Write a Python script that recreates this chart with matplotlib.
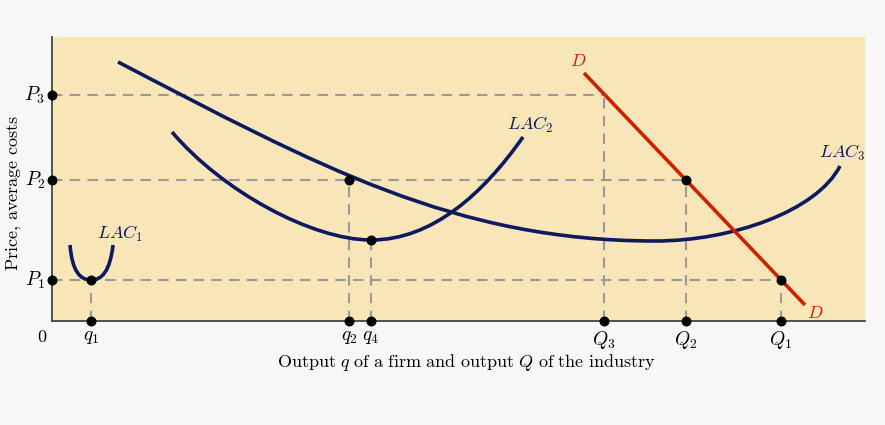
import matplotlib.pyplot as plt
from matplotlib.path import Path
from matplotlib.patches import PathPatch

plt.rcParams["mathtext.fontset"] = "cm"
plt.rcParams["font.family"] = ["Liberation Serif", "DejaVu Serif"]

# price levels and quantities (data units)
price_labels = ["$P_1$", "$P_2$", "$P_3$"]
prices = [41, 141, 226]
firm_labels = ["$q_1$", "$q_2$", "$q_4$"]
firm_q = [39, 297, 319]
ind_labels = ["$Q_3$", "$Q_2$", "$Q_1$"]
ind_q = [552, 634, 729]

# long-run average cost curves: bezier control points (start, c1, c2, end, c1, c2, end)
lac1 = [(18, 76), (20, 50), (28, 41), (39, 41), (50, 41), (58, 50), (61, 76)]
lac2 = [(120, 189), (170, 130), (260, 81), (319, 81), (380, 81), (431, 127), (471, 184)]
lac3 = [(66, 259), (266, 155), (403, 80), (603, 80), (680, 80), (765, 110), (788, 155)]

# market demand line
demand_x = [532, 753]
demand_y = [248, 16]

# marked points (x, y)
pts_x = [39, 297, 319, 634, 729]
pts_y = [41, 141, 81, 141, 41]

NAVY = "#0c1a5e"
RED = "#cc2200"
GREY = "#9a9a9a"

fig = plt.figure(figsize=(8.85, 4.25), dpi=100)
fig.patch.set_facecolor("#f7f7f7")
ax = fig.add_axes([0.0588, 0.2447, 0.9186, 0.6683])
ax.set_facecolor("#f8e5b8")
ax.set_xlim(0, 813)
ax.set_ylim(0, 284)
for s in ("top", "right"):
    ax.spines[s].set_visible(False)
for s in ("left", "bottom"):
    ax.spines[s].set_color("#444444")
    ax.spines[s].set_linewidth(1.3)
ax.set_xticks([])
ax.set_yticks([])

dash = dict(color=GREY, lw=1.5, dashes=(5, 3.5), zorder=1)
# horizontal guides
ax.plot([0, ind_q[0]], [prices[2]] * 2, **dash)
ax.plot([0, ind_q[1]], [prices[1]] * 2, **dash)
ax.plot([0, ind_q[2]], [prices[0]] * 2, **dash)
# vertical guides
for x, y in zip([firm_q[0], firm_q[1], firm_q[2], ind_q[0], ind_q[1], ind_q[2]],
                [prices[0], prices[1], pts_y[2], prices[2], prices[1], prices[0]]):
    ax.plot([x, x], [0, y], **dash)

codes = [Path.MOVETO] + [Path.CURVE4] * 6
for pts in (lac1, lac2, lac3):
    ax.add_patch(PathPatch(Path(pts, codes), fc="none", ec=NAVY, lw=2.6,
                           capstyle="butt", zorder=3))

ax.plot(demand_x, demand_y, color=RED, lw=2.6, solid_capstyle="butt", zorder=3)

ax.scatter(pts_x, pts_y, s=38, color="black", zorder=5)
ax.scatter([0] * 3, prices, s=38, color="black", zorder=5, clip_on=False)
ax.scatter(firm_q + ind_q, [0] * 6, s=38, color="black", zorder=5, clip_on=False)

for lab, y in zip(price_labels, prices):
    ax.text(-7, y, lab, ha="right", va="center", fontsize=14)
for lab, x in zip(firm_labels + ind_labels, firm_q + ind_q):
    ax.text(x, -8, lab, ha="center", va="top", fontsize=14)
ax.text(-10, -8, "$0$", ha="center", va="top", fontsize=13)

ax.text(45, 87, "$LAC_1$", ha="left", va="center", fontsize=13, color=NAVY)
ax.text(455, 196, "$LAC_2$", ha="left", va="center", fontsize=13, color=NAVY)
ax.text(767, 168, "$LAC_3$", ha="left", va="center", fontsize=13, color=NAVY)
ax.text(526, 259, "$D$", ha="center", va="center", fontsize=13, color=RED)
ax.text(763, 8, "$D$", ha="center", va="center", fontsize=13, color=RED)

ax.set_xlabel(r"$\mathrm{Output}\ q\ \mathrm{of\ a\ firm\ and\ output}\ Q\ \mathrm{of\ the\ industry}$",
              fontsize=13)
ax.set_ylabel(r"$\mathrm{Price,\,average\ costs}$", fontsize=13)
ax.xaxis.set_label_coords(0.509, -0.108)
ax.yaxis.set_label_coords(-0.035, 0.45)

fig.savefig("out.png", dpi=100, facecolor=fig.get_facecolor())
